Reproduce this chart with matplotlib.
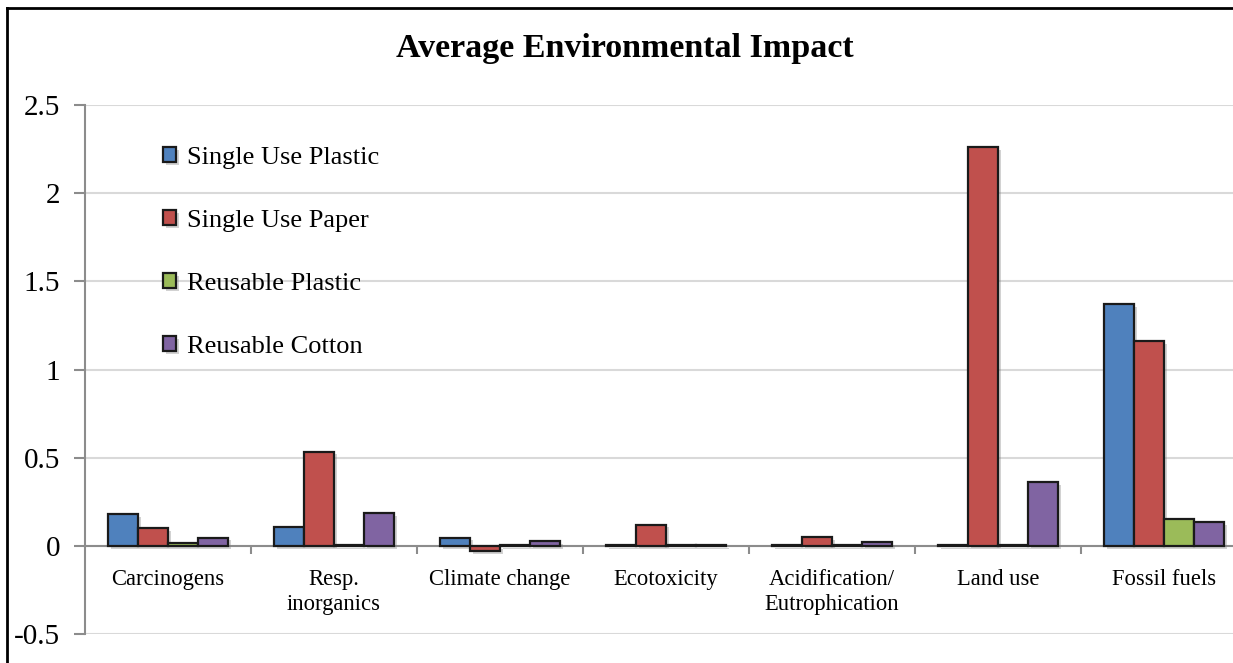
import numpy as np
import matplotlib
matplotlib.use('Agg')
import matplotlib.pyplot as plt
import matplotlib.patheffects as pe
from matplotlib.lines import Line2D

plt.rcParams['font.family'] = ['Liberation Serif', 'DejaVu Serif']

categories = ['Carcinogens', 'Resp.\ninorganics', 'Climate change', 'Ecotoxicity',
              'Acidification/\nEutrophication', 'Land use', 'Fossil fuels']
series_names = ['Single Use Plastic', 'Single Use Paper', 'Reusable Plastic', 'Reusable Cotton']
single_plastic = [0.18, 0.107, 0.047, 0.002, 0.002, 0.002, 1.371]
single_paper = [0.10, 0.534, -0.028, 0.12, 0.048, 2.262, 1.163]
reusable_plastic = [0.015, 0.003, 0.003, 0.002, 0.002, 0.002, 0.155]
reusable_cotton = [0.047, 0.185, 0.028, 0.002, 0.02, 0.36, 0.133]
colors = ['#4F81BD', '#C0504D', '#9BBB59', '#8064A2']
yticks = [-0.5, 0, 0.5, 1, 1.5, 2, 2.5]

W, H = 1233, 663
fig = plt.figure(figsize=(W / 100, H / 100), dpi=100)
ax = fig.add_axes([85 / W, (H - 634) / H, 7 * 166 / W, (634 - 105) / H])

x = np.arange(len(categories))
bw = 0.18
data = [single_plastic, single_paper, reusable_plastic, reusable_cotton]
shadow = [pe.SimplePatchShadow(offset=(2, -2), shadow_rgbFace='0.5', alpha=0.35), pe.Normal()]
for i, (vals, name, c) in enumerate(zip(data, series_names, colors)):
    bars = ax.bar(x + (i - 1.5) * bw, vals, bw, color=c, edgecolor='#1a1a1a',
                  linewidth=1.6, label=name, zorder=3)
    for b in bars:
        b.set_path_effects(shadow)

ax.set_xlim(-0.5, 6.5)
ax.set_ylim(-0.5, 2.5)
ax.set_yticks(yticks)
ax.set_yticklabels(['-0.5', '0', '0.5', '1', '1.5', '2', '2.5'])
ax.yaxis.grid(True, color='#d9d9d9', linewidth=1.5, zorder=0)
ax.set_axisbelow(True)

for s in ['top', 'right']:
    ax.spines[s].set_visible(False)
ax.spines['left'].set_color('#8c8c8c')
ax.spines['left'].set_linewidth(1.5)
ax.spines['bottom'].set_position(('data', 0))
ax.spines['bottom'].set_color('#8c8c8c')
ax.spines['bottom'].set_linewidth(1.5)
ax.spines['bottom'].set_zorder(2)

ax.tick_params(axis='y', direction='out', length=8, width=1.5, color='#8c8c8c',
               labelsize=21, pad=10)
# boundary ticks between groups, names as minor ticks at group centres
ax.set_xticks(np.arange(0.5, 6.5, 1))
ax.set_xticklabels([])
ax.tick_params(axis='x', which='major', direction='out', length=6, width=1.5, color='#8c8c8c')
ax.set_xticks(x, minor=True)
ax.set_xticklabels(categories, minor=True)
ax.tick_params(axis='x', which='minor', length=0, labelsize=16.3, pad=17)

fig.text(625 / W, 1 - 49 / H, 'Average Environmental Impact', ha='center', va='center',
         fontsize=24.5, fontweight='bold')

ax.legend(loc='upper left', bbox_to_anchor=(150 / W, 1 - 134 / H), bbox_transform=fig.transFigure,
          frameon=False, fontsize=19, handlelength=0.5, handleheight=0.5,
          handletextpad=0.4, labelspacing=1.55, borderpad=0)

# chart border
fig.add_artist(Line2D([7 / W, 7 / W], [0, 1 - 8 / H], color='black', linewidth=2))
fig.add_artist(Line2D([7 / W, 1], [1 - 8 / H, 1 - 8 / H], color='black', linewidth=2))

fig.savefig('out.png', dpi=100)
